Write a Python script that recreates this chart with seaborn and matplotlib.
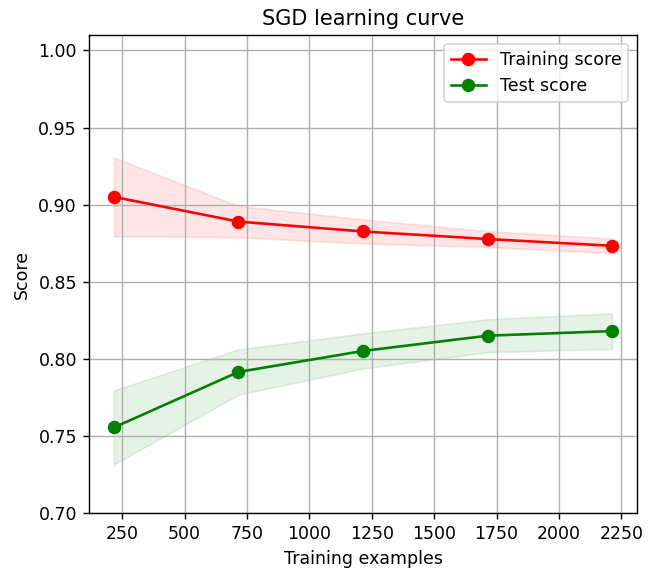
import numpy as np
import matplotlib
matplotlib.use("Agg")
import matplotlib.pyplot as plt
import seaborn as sns

# ---------------------------
# Data
# ---------------------------
train_sizes = [217, 716, 1215, 1714, 2213]
train_mean = [0.905, 0.889, 0.8826, 0.8777, 0.8733]
train_std = [0.0255, 0.0101, 0.0078, 0.0051, 0.0047]
test_mean = [0.7555, 0.7915, 0.8051, 0.8150, 0.8180]
test_std = [0.0240, 0.0147, 0.0114, 0.0107, 0.0115]

train_mean = np.array(train_mean)
train_std = np.array(train_std)
test_mean = np.array(test_mean)
test_std = np.array(test_std)

# ---------------------------
# Plot
# ---------------------------
fig = plt.figure(figsize=(5.2, 4.552), dpi=125)
ax = fig.add_axes([0.137, 0.0984, 0.843, 0.840])

ax.fill_between(train_sizes, train_mean - train_std, train_mean + train_std,
                alpha=0.1, color="r")
ax.fill_between(train_sizes, test_mean - test_std, test_mean + test_std,
                alpha=0.1, color="g")
sns.lineplot(x=train_sizes, y=train_mean, color="r", marker="o", markersize=7,
             markeredgecolor="r", label="Training score", ax=ax)
sns.lineplot(x=train_sizes, y=test_mean, color="g", marker="o", markersize=7,
             markeredgecolor="g", label="Test score", ax=ax)

ax.set_ylim(0.7, 1.01)
ax.set_title("SGD learning curve")
ax.set_xlabel("Training examples")
ax.set_ylabel("Score")
ax.grid(True)
ax.legend(loc="best")

plt.savefig("out.png", dpi=125)
